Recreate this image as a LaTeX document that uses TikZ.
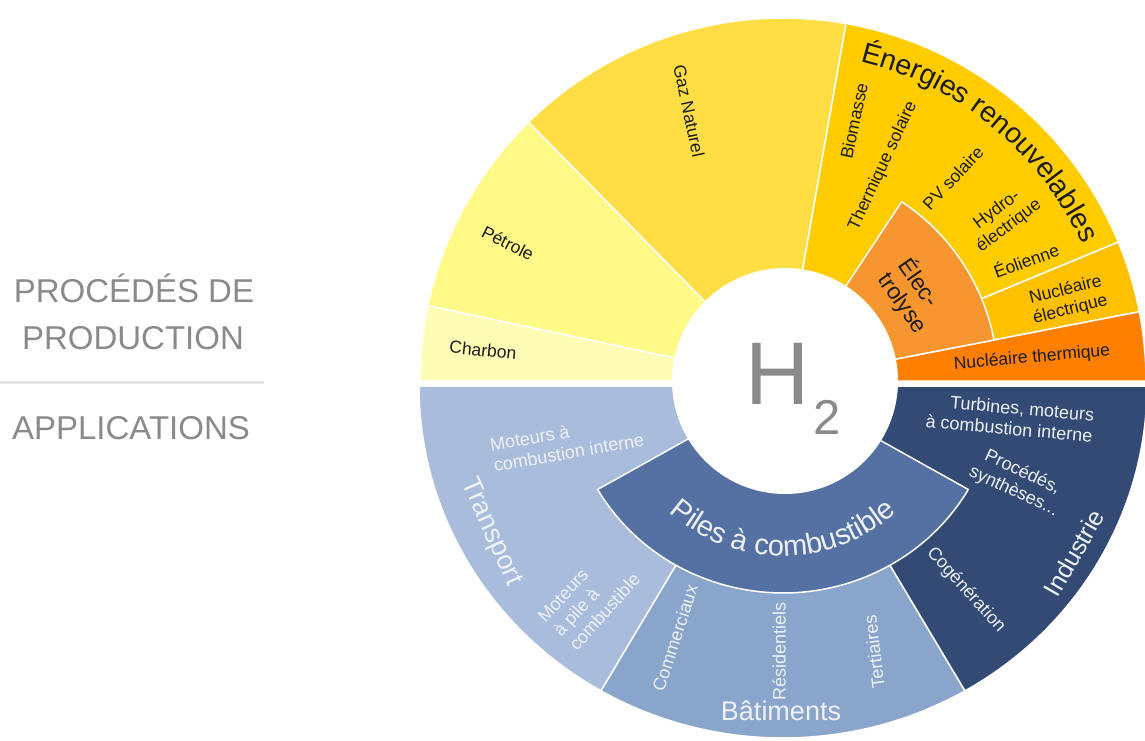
\documentclass[tikz,border=0pt]{standalone}
\usepackage{fontspec}
\setmainfont{Liberation Sans}
\usepackage{tikz}
\usetikzlibrary{calc, positioning, decorations.text}
\definecolor{charbon}{HTML}{FFFDB5}
\definecolor{petrole}{HTML}{FFF987}
\definecolor{gaz}{HTML}{FFDD45}
\definecolor{renouv}{HTML}{FFCC00}
\definecolor{electro}{HTML}{F7962F}
\definecolor{nucelec}{HTML}{FFC000}
\definecolor{nuctherm}{HTML}{FF8000}
\definecolor{transport}{HTML}{A9BCDC}
\definecolor{batiment}{HTML}{8AA5CB}
\definecolor{piles}{HTML}{5571A3}
\definecolor{industrie}{HTML}{334A75}
\definecolor{hgray}{HTML}{8A8A8A}
\definecolor{ink}{HTML}{1C1C1C}
\definecolor{pale}{HTML}{EEF2F8}
\tikzstyle{wedge}=[draw=white, line width=1.5pt]
\tikzstyle{lbl}=[inner sep=0pt, align=center, text=ink, font=\fontsize{17.5}{20}\selectfont]
\tikzstyle{alb}=[lbl, text=pale, font=\fontsize{18}{21}\selectfont]
\tikzstyle{big}=[font=\fontsize{27}{29}\selectfont]
\tikzstyle{side}=[inner sep=0pt, text=hgray, font=\fontsize{33}{40}\selectfont]
\tikzstyle{chem}=[inner sep=0pt, text=hgray]

\begin{document}
\begin{tikzpicture}[x=1pt, y=1pt]
\useasboundingbox (-783,-357) rectangle (362,383);
% production
\begin{scope}[shift={(0,2)}]
\filldraw[wedge, fill=charbon] (0,0) -- (168:363) arc[start angle=168, end angle=180, radius=363] -- cycle;
\filldraw[wedge, fill=petrole] (0,0) -- (134.5:363) arc[start angle=134.5, end angle=168, radius=363] -- cycle;
\filldraw[wedge, fill=gaz] (0,0) -- (80:363) arc[start angle=80, end angle=134.5, radius=363] -- cycle;
\filldraw[wedge, fill=renouv] (0,0) -- (22.5:363) arc[start angle=22.5, end angle=80, radius=363] -- cycle;
\filldraw[wedge, fill=nucelec] (0,0) -- (11:363) arc[start angle=11, end angle=22.5, radius=363] -- cycle;
\filldraw[wedge, fill=nuctherm] (0,0) -- (0:363) arc[start angle=0, end angle=11, radius=363] -- cycle;
\filldraw[wedge, fill=electro] (0,0) -- (11:215) arc[start angle=11, end angle=56.5, radius=215] -- cycle;
\path[decorate, decoration={text along path, text align=center, text color=ink,
  text={|\fontsize{28.5}{30}\selectfont|Énergies renouvelables}}] (90:329) arc[start angle=90, end angle=11, radius=329];
\end{scope}
% applications
\begin{scope}[shift={(0,-3)}, yscale=0.967]
\filldraw[wedge, fill=transport] (0,0) -- (180:364) arc[start angle=180, end angle=240, radius=364] -- cycle;
\filldraw[wedge, fill=batiment] (0,0) -- (240:364) arc[start angle=240, end angle=300, radius=364] -- cycle;
\filldraw[wedge, fill=industrie] (0,0) -- (300:364) arc[start angle=300, end angle=360, radius=364] -- cycle;
\filldraw[wedge, fill=piles] (0,0) -- (210:214) arc[start angle=210, end angle=330, radius=214] -- cycle;
\end{scope}
\begin{scope}[shift={(0,-3)}]
\path[decorate, decoration={text along path, text align=center, text color=pale,
  text={|\fontsize{29}{31}\selectfont|Piles à combustible}}] (200:170) arc[start angle=200, end angle=340, radius=170];
\end{scope}
\fill[white] (2,2) circle[radius=113];
%
\node[chem, font=\fontsize{89}{90}\selectfont] (h) at (-5.5,9) {H};
\node[chem, font=\fontsize{49}{50}\selectfont] (two) at (44,-34) {2};
%
\node[lbl, rotate=-6] (charbon) at (-300,33) {Charbon};
\node[lbl, rotate=-27] (petrole) at (-275,140) {Pétrole};
\node[lbl, rotate=-78] (gaz) at (-94,272) {Gaz Naturel};
\node[lbl, rotate=78] (biomasse) at (71,262) {Biomasse};
\node[lbl, rotate=65] (thermsol) at (100,217) {Thermique solaire};
\node[lbl, rotate=47] (pvsol) at (170,205) {PV solaire};
\node[lbl, rotate=37] (hydro) at (220,165) {Hydro-\\électrique};
\node[lbl, rotate=20] (eolien) at (243,123) {Éolienne};
\node[lbl, rotate=14] (nucelec) at (285,83) {Nucléaire\\électrique};
\node[lbl, rotate=5] (nuctherm) at (249,25) {Nucléaire thermique};
\node[lbl, align=left, rotate=-55, font=\fontsize{23}{25}\selectfont] (electro) at (130,87) {Élec-\\trolyse};
%
\node[alb, align=left, rotate=10] (motcomb) at (-216,-59) {Moteurs à\\combustion interne};
\node[alb, big, rotate=-66] (transport) at (-292,-149) {Transport};
\node[alb, align=left, rotate=48] (motpile) at (-194,-215) {Moteurs\\à pile à\\combustible};
\node[alb, rotate=72] (commerc) at (-108,-255) {Commerciaux};
\node[alb, rotate=90] (resid) at (-4,-268) {Résidentiels};
\node[alb, rotate=97] (tert) at (91,-269) {Tertiaires};
\node[alb, big] (batim) at (-2,-328) {Bâtiments};
\node[alb, align=right, rotate=-5] (turbines) at (227,-35) {Turbines, moteurs\\à combustion interne};
\node[alb, rotate=-25] (procedes) at (235,-99) {Procédés,\\synthèses...};
\node[alb, rotate=60, font=\fontsize{25}{27}\selectfont] (industrie) at (291,-170) {Industrie};
\node[alb, rotate=-48] (cogen) at (183,-207) {Cogénération};
%
\node[side, anchor=base] (prod1) at (-649,81) {PROCÉDÉS DE};
\node[side, anchor=base] (prod2) at (-650,34) {PRODUCTION};
\node[side, anchor=base] (appl) at (-652,-56) {APPLICATIONS};
\draw[line width=3pt, black!10] (-783,1) -- (-519,1);
\end{tikzpicture}
\end{document}
